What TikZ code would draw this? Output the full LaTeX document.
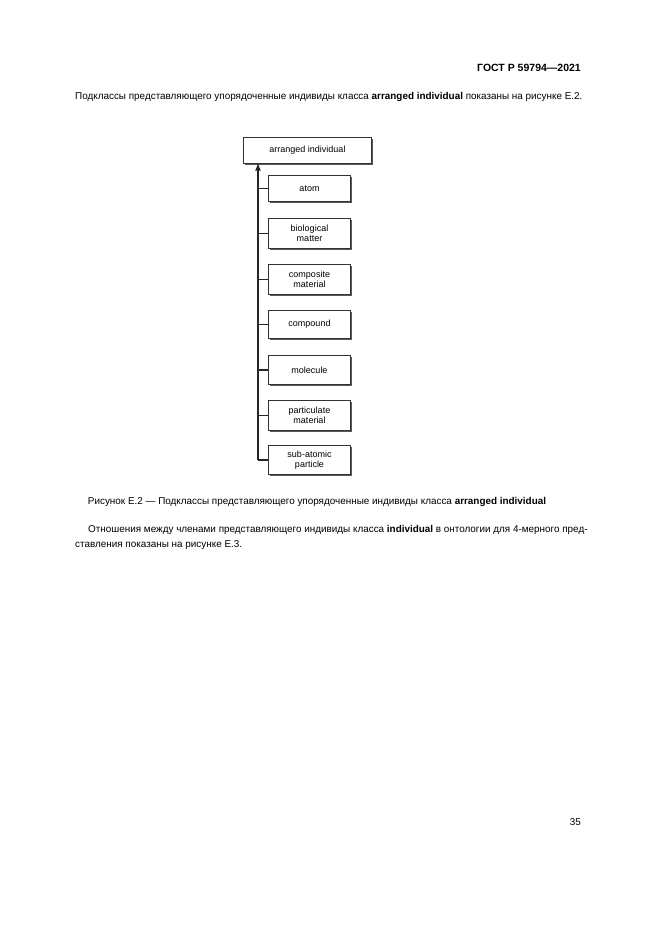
\documentclass[tikz,border=0pt]{standalone}
\usepackage{fontspec}
\setmainfont{Liberation Sans}
\usetikzlibrary{shadows}
\begin{document}
\begin{tikzpicture}[x=1pt,y=-1pt,
  cls/.style={draw=black!80,line width=1pt,fill=white,minimum width=82pt,align=center,font=\fontsize{9}{10}\selectfont,inner sep=1pt,
    drop shadow={shadow xshift=1.3pt,shadow yshift=-1.3pt,fill=black!65,opacity=1}},
  txt/.style={font=\fontsize{9.9}{12}\selectfont,inner sep=0pt},
  link/.style={draw=black!85,line width=1.6pt}]
\useasboundingbox (0,0) rectangle (661,935);
\node[txt,anchor=east,font=\bfseries\fontsize{10.5}{12}\selectfont] (hdr) at (581,68) {ГОСТ Р 59794—2021};
\node[txt,anchor=west] (p1) at (75,97) {Подклассы представляющего упорядоченные индивиды класса \textbf{arranged individual} показаны на рисунке Е.2.};
\node[cls,minimum width=128pt,minimum height=26pt,anchor=north west] (top) at (243,137) {arranged individual};
\foreach \n/\t/\y/\h in {a/atom/175/26, b/{biological\\matter}/218/30, c/{composite\\material}/264/30, d/compound/310/28, e/molecule/355/29, f/{particulate\\material}/400/30, g/{sub-atomic\\particle}/445/29}{
  \node[cls,minimum height=\h pt,anchor=north west] (\n) at (268,\y) {\t};
}
\coordinate (tr) at (258,163);
\draw[link,-latex] (258,460) coordinate (bot) -- (tr);
\foreach \n in {a,b,c,d,e,f,g}{
  \draw[link] (\n.west) -- (\n.west -| tr);
}
\node[txt] (cap) at (317,502) {Рисунок Е.2 — Подклассы представляющего упорядоченные индивиды класса \textbf{arranged individual}};
\node[txt,anchor=west] (p2) at (88,530) {Отношения между членами представляющего индивиды класса \textbf{individual} в онтологии для 4-мерного пред-};
\node[txt,anchor=west] (p3) at (75,545) {ставления показаны на рисунке Е.3.};
\node[txt,anchor=east] (pg) at (581,822) {35};
\end{tikzpicture}
\end{document}
